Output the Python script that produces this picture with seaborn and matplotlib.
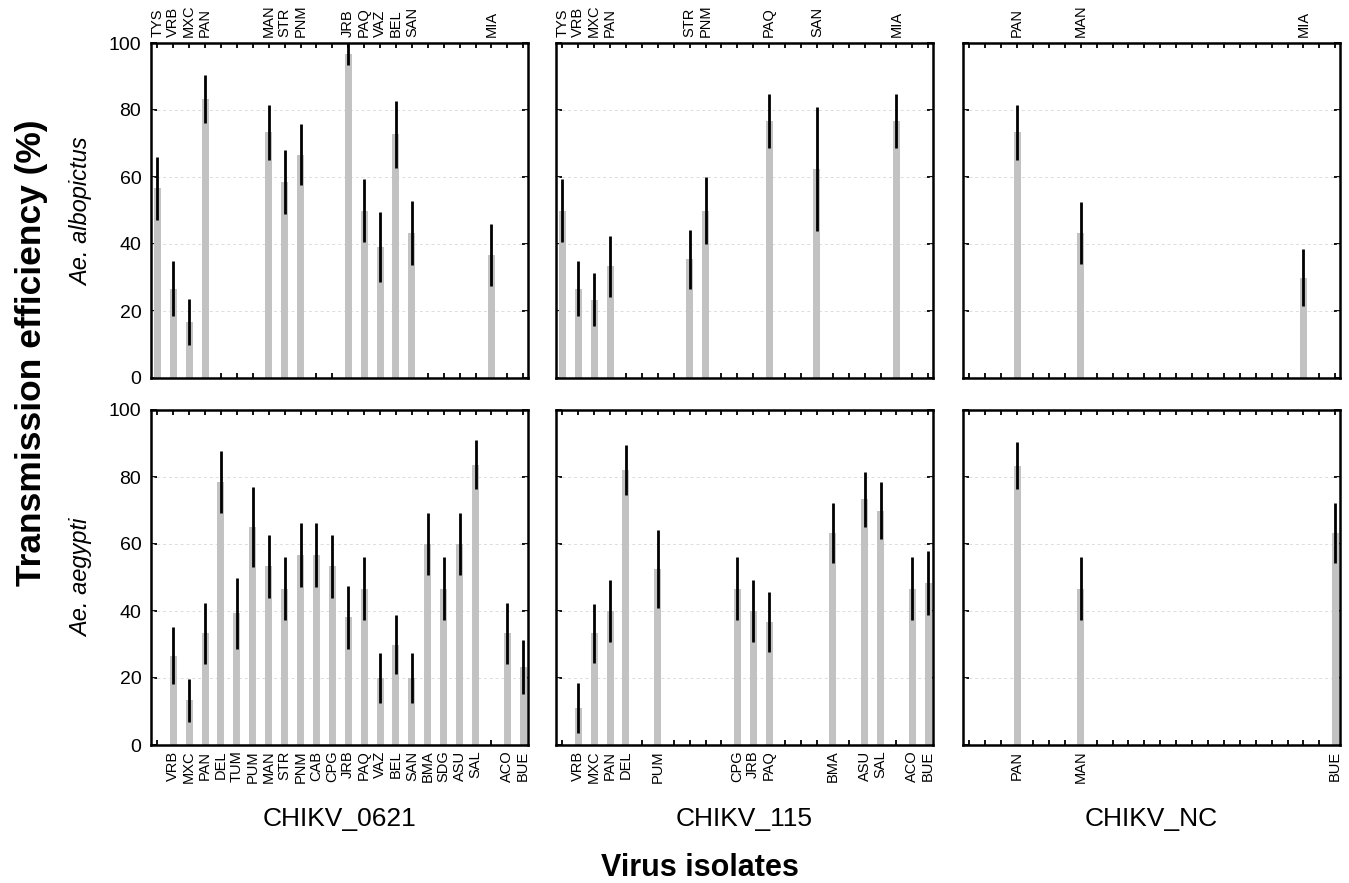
import matplotlib
matplotlib.use("Agg")
import matplotlib.pyplot as plt
import seaborn as sns
import pandas as pd
import numpy as np

# Isolate slots shared by every panel (x-axis order)
slots = ["TYS", "VRB", "MXC", "PAN", "DEL", "TUM", "PUM", "MAN", "STR", "PNM",
         "CAB", "CPG", "JRB", "PAQ", "VAZ", "BEL", "SAN", "BMA", "SDG", "ASU",
         "SAL", "MIA", "ACO", "BUE"]

strains = ["CHIKV_0621", "CHIKV_115", "CHIKV_NC"]
species = ["Ae. albopictus", "Ae. aegypti"]

# Ae. albopictus
alb_0621_iso = ["TYS", "VRB", "MXC", "PAN", "MAN", "STR", "PNM", "JRB", "PAQ", "VAZ", "BEL", "SAN", "MIA"]
alb_0621_val = [56.7, 26.7, 16.7, 83.3, 73.3, 58.6, 66.7, 96.7, 50.0, 39.1, 72.7, 43.3, 36.7]
alb_0621_err = [9.4, 8.2, 6.9, 7.2, 8.1, 9.6, 9.0, 3.3, 9.3, 10.5, 9.9, 9.5, 9.2]

alb_115_iso = ["TYS", "VRB", "MXC", "PAN", "STR", "PNM", "PAQ", "SAN", "MIA"]
alb_115_val = [50.0, 26.7, 23.3, 33.3, 35.5, 50.0, 76.7, 62.5, 76.7]
alb_115_err = [9.5, 8.3, 7.9, 9.0, 8.8, 10.0, 8.0, 18.5, 8.0]

alb_nc_iso = ["PAN", "MAN", "MIA"]
alb_nc_val = [73.3, 43.3, 30.0]
alb_nc_err = [8.2, 9.2, 8.6]

# Ae. aegypti
aeg_0621_iso = ["VRB", "MXC", "PAN", "DEL", "TUM", "PUM", "MAN", "STR", "PNM", "CAB", "CPG",
                "JRB", "PAQ", "VAZ", "BEL", "SAN", "BMA", "SDG", "ASU", "SAL", "ACO", "BUE"]
aeg_0621_val = [26.7, 13.3, 33.3, 78.6, 39.3, 65.0, 53.3, 46.7, 56.7, 56.7, 53.3,
                38.1, 46.7, 20.0, 30.0, 20.0, 60.0, 46.7, 60.0, 83.7, 33.3, 23.3]
aeg_0621_err = [8.4, 6.5, 9.1, 9.2, 10.6, 12.0, 9.5, 9.5, 9.5, 9.5, 9.5,
                9.4, 9.5, 7.6, 8.7, 7.6, 9.3, 9.5, 9.3, 7.2, 9.1, 8.0]

aeg_115_iso = ["VRB", "MXC", "PAN", "DEL", "PUM", "CPG", "JRB", "PAQ", "BMA", "ASU", "SAL", "ACO", "BUE"]
aeg_115_val = [11.1, 33.3, 40.0, 82.1, 52.6, 46.7, 40.0, 36.7, 63.3, 73.3, 70.0, 46.7, 48.3]
aeg_115_err = [7.5, 8.9, 9.2, 7.4, 11.7, 9.3, 9.2, 8.9, 8.9, 8.2, 8.6, 9.3, 9.5]

aeg_nc_iso = ["PAN", "MAN", "BUE"]
aeg_nc_val = [83.3, 46.7, 63.3]
aeg_nc_err = [7.0, 9.4, 8.9]

panels = [
    [(alb_0621_iso, alb_0621_val, alb_0621_err),
     (alb_115_iso, alb_115_val, alb_115_err),
     (alb_nc_iso, alb_nc_val, alb_nc_err)],
    [(aeg_0621_iso, aeg_0621_val, aeg_0621_err),
     (aeg_115_iso, aeg_115_val, aeg_115_err),
     (aeg_nc_iso, aeg_nc_val, aeg_nc_err)],
]

sns.set_style("white")
plt.rcParams["font.family"] = ["Liberation Sans", "DejaVu Sans"]
plt.rcParams["text.color"] = "black"
plt.rcParams["xtick.color"] = "black"
plt.rcParams["ytick.color"] = "black"

W, H = 1349, 883
fig = plt.figure(figsize=(W / 100, H / 100), dpi=100)

col_left = [151, 556, 963]
col_width = 377
row_top = [43, 410]
row_height = 335

bar_color = "#c2c2c2"

for r in range(2):
    for c in range(3):
        iso, val, err = panels[r][c]
        x0 = col_left[c] / W
        y0 = 1 - (row_top[r] + row_height) / H
        ax = fig.add_axes([x0, y0, col_width / W, row_height / H])
        df = pd.DataFrame({"isolate": iso, "value": val})
        sns.barplot(data=df, x="isolate", y="value", order=slots, color=bar_color,
                    width=0.44, saturation=1, errorbar=None, linewidth=0,
                    ax=ax, zorder=2)
        xpos = [slots.index(s) for s in iso]
        ax.errorbar(xpos, val, yerr=err, fmt="none", ecolor="black",
                    elinewidth=2.0, capsize=0, zorder=3)

        for g in (20, 40, 60, 80):
            ax.axhline(g, color="#dcdcdc", lw=0.7, ls=(0, (3, 3)), zorder=1)

        ax.set_xlim(-0.4, 23.3)
        ax.set_ylim(0, 100)
        ax.set_xlabel("")
        ax.set_ylabel("")

        labels = [s if s in iso else "" for s in slots]
        ax.set_xticks(range(len(slots)))
        ax.set_xticklabels(labels, rotation=90, fontsize=10.5)
        if r == 0:
            ax.tick_params(axis="x", labeltop=True, labelbottom=False)
        else:
            ax.tick_params(axis="x", labeltop=False, labelbottom=True)
        ax.tick_params(axis="x", direction="in", top=True, bottom=True,
                       length=3.5, width=1.3, pad=4)

        ax.set_yticks([0, 20, 40, 60, 80, 100])
        ax.tick_params(axis="y", direction="in", left=True, right=True,
                       length=4, width=1.3, labelsize=14, pad=7)
        if c != 0:
            ax.tick_params(axis="y", labelleft=False)

        for sp in ax.spines.values():
            sp.set_visible(True)
            sp.set_linewidth(1.8)
            sp.set_color("black")

        if r == 1:
            ax.text(0.5, -0.22, strains[c], transform=ax.transAxes,
                    ha="center", va="center", fontsize=19)

# Species labels
fig.text(82 / W, 1 - 212 / H, "Ae. albopictus", rotation=90, ha="center",
         va="center", fontsize=17, style="italic")
fig.text(82 / W, 1 - 578 / H, "Ae. aegypti", rotation=90, ha="center",
         va="center", fontsize=17, style="italic")

# Overall axis titles
fig.text(32 / W, 1 - 353 / H, "Transmission efficiency (%)", rotation=90,
         ha="center", va="center", fontsize=25.5, fontweight="bold")
fig.text(700 / W, 1 - 868 / H, "Virus isolates", ha="center", va="center",
         fontsize=22, fontweight="bold")

fig.savefig("out.png", dpi=100)
